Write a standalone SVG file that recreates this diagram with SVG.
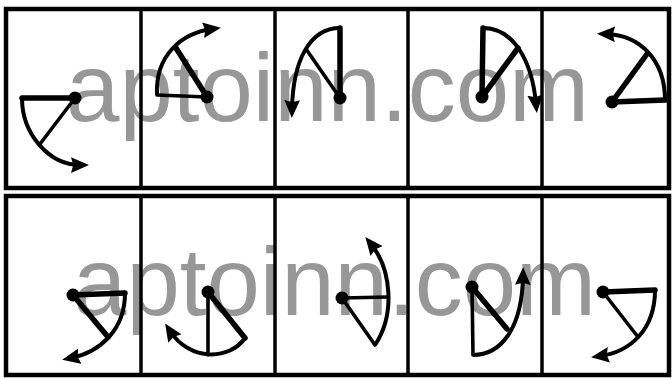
<svg xmlns="http://www.w3.org/2000/svg" width="672" height="379" viewBox="0 0 672 379">
<style>
.frame{fill:none;stroke:#000;stroke-width:4.5}
.div{stroke:#000;stroke-width:3.5}
.thick{stroke:#000;stroke-width:5.5;stroke-linecap:round;fill:none}
.thin{stroke:#000;stroke-width:3.6;stroke-linecap:round;fill:none}
.arc{stroke:#000;stroke-width:4;fill:none;marker-end:url(#ah)}
.dot{fill:#000}
.wm{font-family:"Liberation Sans",Arial,sans-serif;font-size:96px;fill:#979797}
</style>
<defs>
<marker id="ah" markerUnits="userSpaceOnUse" markerWidth="18" markerHeight="16" refX="8" refY="7" orient="auto" viewBox="0 0 16 14">
<path d="M0,0 L16,7 L0,14 L2,7 z" fill="#000"/>
</marker>
</defs>
<rect width="672" height="379" fill="#fff"/>
<g id="watermark">
<text class="wm" x="66" y="121">aptoinn.com</text>
<text class="wm" x="73" y="315">aptoinn.com</text>
</g>
<g id="frames">
<rect class="frame" x="6" y="9" width="663" height="179"/>
<rect class="frame" x="6" y="196" width="663" height="179"/>
<line class="div" x1="141" y1="9" x2="141" y2="188"/>
<line class="div" x1="275" y1="9" x2="275" y2="188"/>
<line class="div" x1="408" y1="9" x2="408" y2="188"/>
<line class="div" x1="542" y1="9" x2="542" y2="188"/>
<line class="div" x1="141" y1="196" x2="141" y2="375"/>
<line class="div" x1="275" y1="196" x2="275" y2="375"/>
<line class="div" x1="408" y1="196" x2="408" y2="375"/>
<line class="div" x1="542" y1="196" x2="542" y2="375"/>
</g>
<g id="fig1">
<line class="thick" x1="75" y1="98" x2="22" y2="98"/>
<line class="thin" x1="75" y1="98" x2="40" y2="144"/>
<path class="arc" d="M22,98 C22,135 50,165 80,165"/>
<circle class="dot" cx="75" cy="98" r="6.5"/>
</g>
<g id="fig2">
<line class="thin" x1="207" y1="97" x2="157" y2="95"/>
<line class="thick" x1="207" y1="97" x2="176" y2="48"/>
<path class="arc" d="M157,95 C155,55 182,33 212,29"/>
<circle class="dot" cx="207" cy="97" r="6.5"/>
</g>
<g id="fig3">
<line class="thick" x1="340" y1="98" x2="340" y2="28"/>
<line class="thin" x1="340" y1="98" x2="306" y2="49"/>
<path class="arc" d="M340,28 C310,28 293,60 292,109"/>
<circle class="dot" cx="340" cy="98" r="6.5"/>
</g>
<g id="fig4">
<line class="thick" x1="482" y1="97" x2="483" y2="28"/>
<line class="thick" x1="482" y1="97" x2="518" y2="48"/>
<path class="arc" d="M483,28 C513,28 532,60 536,104"/>
<circle class="dot" cx="482" cy="97" r="6.5"/>
</g>
<g id="fig5">
<line class="thick" x1="612" y1="102" x2="665" y2="100"/>
<line class="thick" x1="612" y1="102" x2="647" y2="54"/>
<path class="arc" d="M665,100 C665,60 640,35 606,34"/>
<circle class="dot" cx="612" cy="102" r="6.5"/>
</g>
<g id="fig6">
<line class="thick" x1="73" y1="295" x2="125" y2="293"/>
<line class="thick" x1="73" y1="295" x2="108" y2="337"/>
<path class="arc" d="M125,293 C125,330 100,352 71,358"/>
<circle class="dot" cx="73" cy="295" r="6.5"/>
</g>
<g id="fig7">
<line class="thin" x1="208" y1="292" x2="208" y2="355"/>
<line class="thick" x1="208" y1="292" x2="245" y2="338"/>
<path class="arc" d="M245,338 C230,360 190,362 170,331"/>
<circle class="dot" cx="208" cy="292" r="6.5"/>
</g>
<g id="fig8">
<line class="thin" x1="342" y1="298" x2="388" y2="297"/>
<line class="thin" x1="342" y1="298" x2="375" y2="345"/>
<path class="arc" d="M375,345 C395,315 392,270 371,244"/>
<circle class="dot" cx="342" cy="298" r="6.5"/>
</g>
<g id="fig9">
<line class="thick" x1="472" y1="287" x2="507" y2="329"/>
<line class="thin" x1="472" y1="287" x2="473" y2="355"/>
<path class="arc" d="M473,355 C500,355 522,330 523,276"/>
<circle class="dot" cx="472" cy="287" r="6.5"/>
</g>
<g id="fig10">
<line class="thick" x1="603" y1="292" x2="655" y2="290"/>
<line class="thin" x1="603" y1="292" x2="638" y2="337"/>
<path class="arc" d="M655,290 C655,330 630,352 600,356"/>
<circle class="dot" cx="603" cy="292" r="6.5"/>
</g>
</svg>
